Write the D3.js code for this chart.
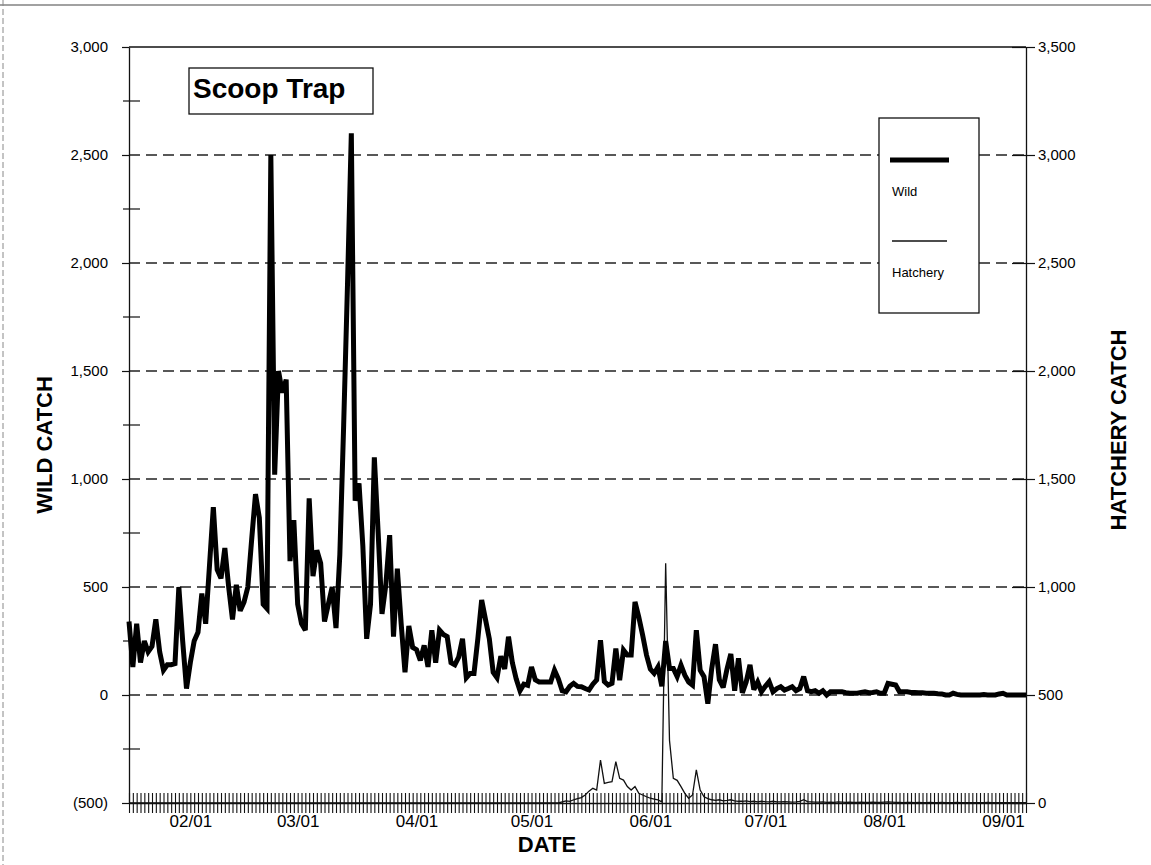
<!DOCTYPE html>
<html>
<head>
<meta charset="utf-8">
<script src="https://cdn.jsdelivr.net/npm/d3@7"></script>
<style>
  body { margin: 0; background: #fff; }
  svg { display: block; font-family: Arial, "Liberation Sans", sans-serif; }
</style>
</head>
<body>
<svg id="chart" width="1151" height="865"></svg>
<script>
// ---- data: daily catch, first day 2001-01-16 ----
const startDate = "2001-01-16";
const endDate = "2001-09-07";
const monthTicks = ["2001-02-01", "2001-03-01", "2001-04-01", "2001-05-01",
                    "2001-06-01", "2001-07-01", "2001-08-01", "2001-09-01"];
const wildTicks = [-500, 0, 500, 1000, 1500, 2000, 2500, 3000];
const wildMinorTicks = [-250, 250, 750, 1250, 1750, 2250, 2750];
const hatcheryTicks = [0, 500, 1000, 1500, 2000, 2500, 3000, 3500];

const wildCatch = [
  340, 130, 330, 150, 250, 200, 225, 350, 200, 115,
  140, 140, 145, 500, 250, 30, 150, 250, 290, 470,
  330, 600, 870, 580, 540, 680, 500, 350, 510, 390,
  430, 500, 720, 930, 820, 420, 400, 2500, 1020, 1500,
  1400, 1460, 620, 810, 420, 330, 300, 910, 550, 670,
  610, 340, 420, 500, 310, 650, 1250, 1900, 2600, 900,
  980, 690, 260, 420, 1100, 750, 375, 510, 740, 270,
  585, 330, 105, 320, 220, 210, 160, 230, 130, 300,
  150, 300, 280, 270, 150, 140, 175, 260, 80, 100,
  100, 260, 440, 350, 260, 105, 80, 180, 120, 270,
  150, 75, 20, 50, 45, 130, 70, 60, 60, 60,
  60, 115, 75, 20, 15, 40, 54, 40, 38, 30,
  23, 50, 70, 254, 62, 46, 54, 215, 69, 208,
  185, 185, 431, 360, 277, 185, 120, 100, 130, 40,
  250, 123, 123, 85, 138, 92, 60, 46, 300, 115,
  85, -40, 120, 235, 70, 35, 120, 190, 20, 170,
  10, 60, 140, 25, 60, 15, 40, 62, 15, 30,
  38, 23, 30, 38, 20, 30, 85, 20, 15, 20,
  8, 20, 0, 15, 15, 15, 15, 11, 8, 8,
  8, 12, 15, 11, 12, 15, 8, 8, 54, 50,
  46, 15, 15, 15, 12, 12, 11, 10, 8, 8,
  8, 6, 5, 0, 0, 8, 3, 0, 0, 0,
  0, 0, 0, 2, 0, 0, 0, 5, 8, 0,
  0, 0, 0, 0, 0
];

const hatcheryCatch = [
  0, 0, 0, 0, 0, 0, 0, 0, 0, 0,
  0, 0, 0, 0, 0, 0, 0, 0, 0, 0,
  0, 0, 0, 0, 0, 0, 0, 0, 0, 0,
  0, 0, 0, 0, 0, 0, 0, 0, 0, 0,
  0, 0, 0, 0, 0, 0, 0, 0, 0, 0,
  0, 0, 0, 0, 0, 0, 0, 0, 0, 0,
  0, 0, 0, 0, 0, 0, 0, 0, 0, 0,
  0, 0, 0, 0, 0, 0, 0, 0, 0, 0,
  0, 0, 0, 0, 0, 0, 0, 0, 0, 0,
  0, 0, 0, 0, 0, 0, 0, 0, 0, 0,
  0, 0, 0, 0, 0, 0, 0, 0, 0, 0,
  0, 0, 0, 5, 10, 8, 15, 20, 25, 37,
  55, 68, 60, 199, 91, 95, 99, 191, 114, 106,
  76, 60, 76, 45, 37, 29, 22, 18, 14, 5,
  1110, 290, 114, 105, 76, 45, 22, 37, 153, 60,
  29, 20, 15, 12, 15, 10, 12, 15, 10, 8,
  8, 10, 6, 8, 5, 8, 6, 5, 8, 5,
  5, 6, 5, 4, 5, 8, 15, 6, 5, 4,
  4, 5, 3, 4, 3, 5, 4, 3, 4, 3,
  3, 4, 3, 3, 4, 3, 3, 4, 5, 4,
  3, 3, 2, 3, 3, 2, 3, 2, 2, 3,
  2, 2, 3, 2, 2, 2, 3, 2, 2, 2,
  2, 2, 2, 2, 3, 2, 2, 2, 2, 2,
  2, 2, 2, 2, 2
];

// ---- layout ----
const plot = { left: 129, right: 1026, top: 47, bottom: 803 };
const parse = d3.utcParse("%Y-%m-%d");
const day0 = parse(startDate);
const dates = wildCatch.map((_, i) => d3.utcDay.offset(day0, i));

const svg = d3.select("#chart");

const x = d3.scaleUtc()
  .domain([day0, parse(endDate)])
  .range([plot.left, plot.right]);
const yWild = d3.scaleLinear().domain([-500, 3000]).range([plot.bottom, plot.top]);
const yHatch = d3.scaleLinear().domain([0, 3500]).range([plot.bottom, plot.top]);

const fmtWild = v => v < 0 ? "(" + d3.format(",")(-v) + ")" : d3.format(",")(v);

// page border lines
svg.append("line").attr("x1", 0).attr("x2", 1151).attr("y1", 5).attr("y2", 5)
  .attr("stroke", "#444").attr("stroke-width", 1.2);
svg.append("line").attr("x1", 3).attr("x2", 3).attr("y1", 0).attr("y2", 865)
  .attr("stroke", "#888").attr("stroke-width", 1).attr("stroke-dasharray", "6,3");

// dashed horizontal gridlines at every labelled wild value inside the frame
svg.append("g")
  .selectAll("line")
  .data(wildTicks.filter(v => v > -500 && v < 3000))
  .join("line")
  .attr("x1", plot.left).attr("x2", plot.right)
  .attr("y1", d => yWild(d)).attr("y2", d => yWild(d))
  .attr("stroke", "#222").attr("stroke-width", 1.3)
  .attr("stroke-dasharray", "11,6");

// frame: top border
svg.append("line")
  .attr("x1", plot.left).attr("x2", plot.right)
  .attr("y1", plot.top).attr("y2", plot.top)
  .attr("stroke", "#111").attr("stroke-width", 1.3);

// left axis (wild)
const leftAxis = svg.append("g")
  .attr("transform", `translate(${plot.left},0)`)
  .call(d3.axisLeft(yWild).tickValues(wildTicks).tickFormat(fmtWild)
    .tickSizeInner(7).tickSizeOuter(0).tickPadding(14));
leftAxis.select(".domain").attr("stroke", "#111").attr("stroke-width", 1.3);
leftAxis.selectAll(".tick line").attr("stroke", "#111").attr("stroke-width", 1.2);
leftAxis.selectAll("text").attr("font-size", 15).attr("fill", "#000");
svg.append("g")
  .selectAll("line")
  .data(wildMinorTicks)
  .join("line")
  .attr("x1", plot.left - 6).attr("x2", plot.left + 11)
  .attr("y1", d => yWild(d)).attr("y2", d => yWild(d))
  .attr("stroke", "#111").attr("stroke-width", 1.2);

// right axis (hatchery)
const rightAxis = svg.append("g")
  .attr("transform", `translate(${plot.right},0)`)
  .call(d3.axisRight(yHatch).tickValues(hatcheryTicks).tickFormat(d3.format(","))
    .tickSizeInner(9).tickSizeOuter(0).tickPadding(3));
rightAxis.select(".domain").attr("stroke", "#111").attr("stroke-width", 1.3);
rightAxis.selectAll(".tick line").attr("x1", -14).attr("stroke", "#111").attr("stroke-width", 1.2);
rightAxis.selectAll("text").attr("font-size", 15).attr("fill", "#000");

// bottom axis: a tick for every day, crossing the axis line
const dayAxis = svg.append("g")
  .attr("transform", `translate(0,${plot.bottom})`)
  .call(d3.axisBottom(x).ticks(d3.utcDay.every(1)).tickFormat("")
    .tickSizeInner(10).tickSizeOuter(0));
dayAxis.select(".domain").attr("stroke", "#111").attr("stroke-width", 1.3);
dayAxis.selectAll(".tick line").attr("y1", -10).attr("stroke", "#111").attr("stroke-width", 1.1);

// month labels
const monthAxis = svg.append("g")
  .attr("transform", `translate(0,${plot.bottom})`)
  .call(d3.axisBottom(x).tickValues(monthTicks.map(parse))
    .tickFormat(d3.utcFormat("%m/%d")).tickSize(0).tickPadding(12));
monthAxis.select(".domain").remove();
monthAxis.selectAll("text").attr("font-size", 17).attr("fill", "#000");

// series lines
const wildLine = d3.line()
  .x((d, i) => x(dates[i]))
  .y(d => yWild(d));
const hatchLine = d3.line()
  .x((d, i) => x(dates[i]))
  .y(d => yHatch(d));

svg.append("path")
  .datum(hatcheryCatch)
  .attr("d", hatchLine)
  .attr("fill", "none").attr("stroke", "#111").attr("stroke-width", 1.3);

svg.append("path")
  .datum(wildCatch)
  .attr("d", wildLine)
  .attr("fill", "none").attr("stroke", "#000").attr("stroke-width", 5)
  .attr("stroke-linejoin", "miter").attr("stroke-miterlimit", 3);

// axis titles
svg.append("text")
  .attr("transform", "translate(52,445) rotate(-90)")
  .attr("text-anchor", "middle")
  .attr("font-size", 22).attr("font-weight", "bold").attr("fill", "#000")
  .text("WILD CATCH");
svg.append("text")
  .attr("transform", "translate(1126,430) rotate(-90)")
  .attr("text-anchor", "middle")
  .attr("font-size", 22).attr("font-weight", "bold").attr("fill", "#000")
  .text("HATCHERY CATCH");
svg.append("text")
  .attr("x", 547).attr("y", 852)
  .attr("text-anchor", "middle")
  .attr("font-size", 22).attr("font-weight", "bold").attr("fill", "#000")
  .text("DATE");

// title box
svg.append("rect")
  .attr("x", 189).attr("y", 68).attr("width", 184).attr("height", 46)
  .attr("fill", "#fff").attr("stroke", "#111").attr("stroke-width", 1.3);
svg.append("text")
  .attr("x", 193).attr("y", 98)
  .attr("font-size", 28).attr("font-weight", "bold").attr("fill", "#000")
  .text("Scoop Trap");

// legend
const legend = svg.append("g");
legend.append("rect")
  .attr("x", 879).attr("y", 118).attr("width", 100).attr("height", 195)
  .attr("fill", "#fff").attr("stroke", "#111").attr("stroke-width", 1.3);
legend.append("line")
  .attr("x1", 890).attr("x2", 949).attr("y1", 160).attr("y2", 160)
  .attr("stroke", "#000").attr("stroke-width", 5);
legend.append("text")
  .attr("x", 892).attr("y", 196)
  .attr("font-size", 13).attr("fill", "#000")
  .text("Wild");
legend.append("line")
  .attr("x1", 892).attr("x2", 947).attr("y1", 241).attr("y2", 241)
  .attr("stroke", "#111").attr("stroke-width", 1.3);
legend.append("text")
  .attr("x", 892).attr("y", 277)
  .attr("font-size", 13).attr("fill", "#000")
  .text("Hatchery");
</script>
</body>
</html>
